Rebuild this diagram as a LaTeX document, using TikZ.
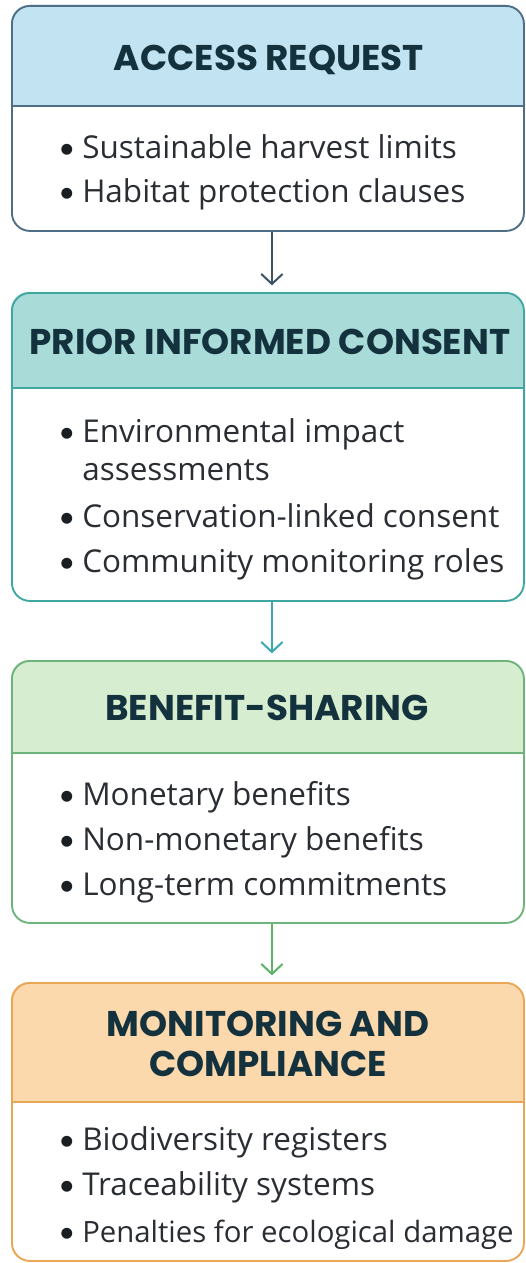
\documentclass[tikz,border=0pt]{standalone}
\usepackage{fontspec}
\usetikzlibrary{arrows.meta}
\newfontfamily\hdrfont{Poppins}[UprightFont=* Bold]
\newfontfamily\bodyfont{Open Sans}
\newfontfamily\bulfont{Lato}
\definecolor{hdrtext}{HTML}{14323E}
\definecolor{bodytext}{HTML}{2A2E33}
\definecolor{bultext}{HTML}{1A1F24}
\definecolor{fillA}{HTML}{C2E4F2}
\definecolor{lineA}{HTML}{4E6E85}
\definecolor{fillB}{HTML}{A9DCD8}
\definecolor{lineB}{HTML}{3FA6A0}
\definecolor{fillC}{HTML}{D6EDCF}
\definecolor{lineC}{HTML}{6CB47C}
\definecolor{fillD}{HTML}{FBD9AC}
\definecolor{lineD}{HTML}{E9A656}
\definecolor{arrA}{HTML}{3D5266}
\definecolor{arrB}{HTML}{3AA9B0}
\definecolor{arrC}{HTML}{5DB36A}
\newcommand\stagebox[6]{%
  \fill[#5] (11,#3) [rounded corners=13.5pt] -- (11,#2) -- (523,#2) [sharp corners] -- (523,#3) -- cycle;
  \node[draw=#6, line width=1.4pt, rounded corners=13.5pt, minimum width=384pt,
        minimum height={0.75pt*(#4-#2)}, anchor=north west, inner sep=0pt] (#1) at (11,#2) {};
  \draw[#6, line width=1.4pt] (#1.west |- 0,#3) -- (#1.east |- 0,#3);
}
\tikzset{
  hdr/.style={anchor=base, inner sep=0pt, text=hdrtext, font=\hdrfont\fontsize{26.8}{30}\selectfont},
  itm/.style={anchor=base west, inner sep=0pt, text=bodytext, font=\bodyfont\fontsize{23.6}{30}\selectfont},
  flow/.style={line width=1.5pt, -{Straight Barb[length=7.5pt,width=16pt,line width=1.5pt]}, shorten >=5pt},
}
\newcommand\bul{\makebox[18pt][l]{\bulfont\fontsize{22}{30}\selectfont\textcolor{bultext}{•}}}
\begin{document}
\begin{tikzpicture}[x=0.75pt,y=-0.75pt]
\useasboundingbox[fill=white] (0,0) rectangle (525,1263);
\stagebox{b1}{5}{106}{230}{fillA}{lineA}
\stagebox{b2}{292}{388}{600}{fillB}{lineB}
\stagebox{b3}{660}{753}{922}{fillC}{lineC}
\stagebox{b4}{982}{1102}{1260}{fillD}{lineD}

\node[hdr] (h1) at (269,70) {ACCESS REQUEST};
\node[hdr] (h2) at (270,354) {PRIOR INFORMED CONSENT};
\node[hdr] (h3) at (267,720) {BENEFIT-SHARING};
\node[hdr] (h4a) at (268,1036) {MONITORING AND};
\node[hdr] (h4b) at (268,1076) {COMPLIANCE};

\node[itm] (i11) at (58,158) {\bul Sustainable harvest limits};
\node[itm] (i12) at (58,202) {\bul Habitat protection clauses};

\node[itm] (i21) at (58,442) {\bul Environmental impact};
\node[itm] (i21b) at (82,480) {assessments};
\node[itm] (i22) at (58,527) {\bul Conservation-linked consent};
\node[itm] (i23) at (58,572) {\bul Community monitoring roles};

\node[itm] (i31) at (58,805) {\bul Monetary benefits};
\node[itm] (i32) at (58,850) {\bul Non-monetary benefits};
\node[itm] (i33) at (58,895) {\bul Long-term commitments};

\node[itm] (i41) at (58,1150) {\bul Biodiversity registers};
\node[itm] (i42) at (58,1195) {\bul Traceability systems};
\node[itm, font=\bodyfont\fontsize{22}{30}\selectfont] (i43) at (58,1242) {\bul Penalties for ecological damage};

\draw[flow, arrA] ([xshift=3pt]b1.south) -- ([xshift=3pt]b2.north);
\draw[flow, arrB] ([xshift=3pt]b2.south) -- ([xshift=3pt]b3.north);
\draw[flow, arrC] ([xshift=3pt]b3.south) -- ([xshift=3pt]b4.north);
\end{tikzpicture}
\end{document}
